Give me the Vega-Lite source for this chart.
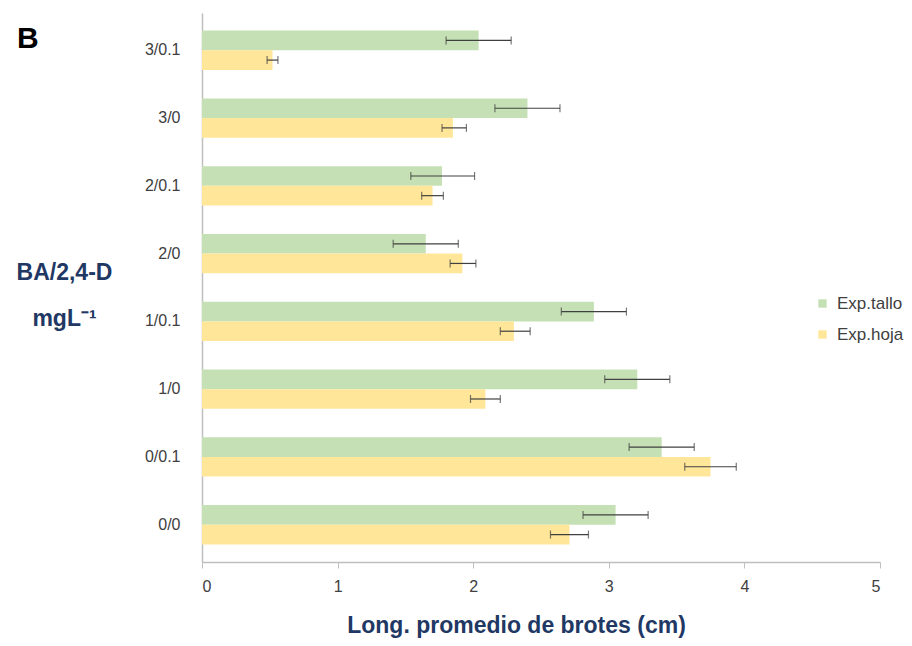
{
  "$schema": "https://vega.github.io/schema/vega-lite/v6.json",
  "autosize": "none",
  "width": 678,
  "height": 549,
  "padding": {"left": 202, "top": 13, "right": 32, "bottom": 84},
  "background": "white",
  "config": {"view": {"stroke": null}},
  "title": {"text": "B", "anchor": "start", "frame": "group", "baseline": "top", "offset": -37, "dx": -185, "dy": 4, "fontSize": 30, "fontWeight": "bold", "font": "Liberation Sans", "color": "#000000"},
  "data": {"values": [
    {"cat": "3/0.1", "series": "Exp.tallo", "value": 2.04, "lo": 1.80, "hi": 2.28},
    {"cat": "3/0.1", "series": "Exp.hoja", "value": 0.52, "lo": 0.48, "hi": 0.56},
    {"cat": "3/0", "series": "Exp.tallo", "value": 2.40, "lo": 2.16, "hi": 2.64},
    {"cat": "3/0", "series": "Exp.hoja", "value": 1.85, "lo": 1.77, "hi": 1.95},
    {"cat": "2/0.1", "series": "Exp.tallo", "value": 1.77, "lo": 1.54, "hi": 2.01},
    {"cat": "2/0.1", "series": "Exp.hoja", "value": 1.70, "lo": 1.62, "hi": 1.78},
    {"cat": "2/0", "series": "Exp.tallo", "value": 1.65, "lo": 1.41, "hi": 1.89},
    {"cat": "2/0", "series": "Exp.hoja", "value": 1.92, "lo": 1.83, "hi": 2.02},
    {"cat": "1/0.1", "series": "Exp.tallo", "value": 2.89, "lo": 2.65, "hi": 3.13},
    {"cat": "1/0.1", "series": "Exp.hoja", "value": 2.30, "lo": 2.20, "hi": 2.42},
    {"cat": "1/0", "series": "Exp.tallo", "value": 3.21, "lo": 2.97, "hi": 3.45},
    {"cat": "1/0", "series": "Exp.hoja", "value": 2.09, "lo": 1.98, "hi": 2.20},
    {"cat": "0/0.1", "series": "Exp.tallo", "value": 3.39, "lo": 3.15, "hi": 3.63},
    {"cat": "0/0.1", "series": "Exp.hoja", "value": 3.75, "lo": 3.56, "hi": 3.94},
    {"cat": "0/0", "series": "Exp.tallo", "value": 3.05, "lo": 2.81, "hi": 3.29},
    {"cat": "0/0", "series": "Exp.hoja", "value": 2.71, "lo": 2.57, "hi": 2.85}
  ]},
  "encoding": {
    "y": {
      "field": "cat", "type": "nominal",
      "sort": ["3/0.1", "3/0", "2/0.1", "2/0", "1/0.1", "1/0", "0/0.1", "0/0"],
      "scale": {"paddingInner": 0.42, "paddingOuter": 0.26},
      "axis": {
        "title": ["BA/2,4-D", "mgL⁻¹"],
        "titleAngle": 0, "titleX": -138, "titleY": 259, "titleAlign": "center", "titleBaseline": "middle",
        "titleLineHeight": 46, "titleFontSize": 23, "titleFontWeight": "bold", "titleColor": "#1f3864", "titleFont": "Liberation Sans",
        "ticks": false, "labelPadding": 22, "labelFontSize": 16, "labelFont": "Liberation Sans", "labelColor": "#404040",
        "domainColor": "#bfbfbf", "domainWidth": 1.5
      }
    },
    "yOffset": {"field": "series", "type": "nominal", "sort": ["Exp.tallo", "Exp.hoja"]}
  },
  "layer": [
    {
      "mark": {"type": "bar"},
      "encoding": {
        "x": {
          "field": "value", "type": "quantitative",
          "scale": {"domain": [0, 5]},
          "axis": {
            "values": [0, 1, 2, 3, 4, 5], "format": "d", "grid": false, "tickSize": 6, "tickColor": "#bfbfbf", "domainColor": "#bfbfbf", "domainWidth": 1.5,
            "labelPadding": 10, "labelFontSize": 16, "labelFont": "Liberation Sans", "labelColor": "#404040",
            "title": "Long. promedio de brotes (cm)", "titleFontSize": 23, "titleFontWeight": "bold", "titleColor": "#1f3864",
            "titleFont": "Liberation Sans", "titlePadding": 20, "titleX": 314, "titleAlign": "center"
          }
        },
        "color": {
          "field": "series", "type": "nominal",
          "scale": {"domain": ["Exp.tallo", "Exp.hoja"], "range": ["#c5e0b4", "#ffe699"]},
          "legend": {
            "title": null, "orient": "none", "legendX": 612, "legendY": 282,
            "symbolType": "square", "symbolSize": 70, "symbolStrokeWidth": 0,
            "labelFontSize": 17, "labelFont": "Liberation Sans", "labelColor": "#404040", "rowPadding": 13, "labelOffset": 6
          }
        }
      }
    },
    {
      "mark": {"type": "errorbar", "ticks": {"size": 8, "color": "#404040"}, "rule": {"color": "#404040"}, "thickness": 1.2},
      "encoding": {
        "x": {"field": "lo", "type": "quantitative", "title": "Long. promedio de brotes (cm)"},
        "x2": {"field": "hi"}
      }
    }
  ]
}
